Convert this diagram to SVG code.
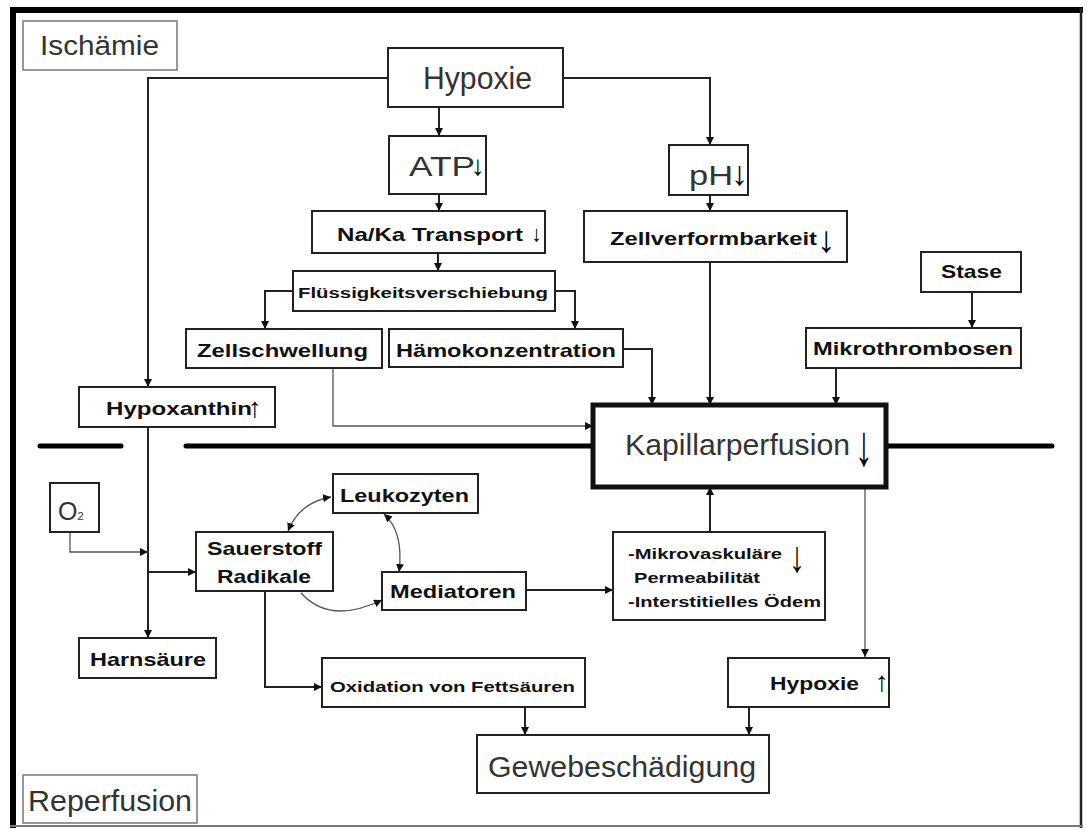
<svg xmlns="http://www.w3.org/2000/svg" width="1087" height="830" viewBox="0 0 1087 830">
<style>
.bx{fill:#fff;stroke:#222;stroke-width:2}
.lb{fill:#fff;stroke:#777;stroke-width:1.5}
.kp{fill:#fff;stroke:#111;stroke-width:5}
.t{font-family:"Liberation Sans",Arial,sans-serif;fill:#333}
.b{font-family:"Liberation Sans",Arial,sans-serif;font-weight:bold;fill:#111}
.ar{font-family:"Liberation Sans",Arial,sans-serif;fill:#000}
.c{fill:none;stroke:#222;stroke-width:2}
.ct{fill:none;stroke:#555;stroke-width:1.3}
.sep{stroke:#000;stroke-width:5;stroke-linecap:round}
</style>
<defs>
<marker id="ah" viewBox="0 0 10 10" refX="10" refY="5" markerWidth="8" markerHeight="8" markerUnits="userSpaceOnUse" orient="auto-start-reverse"><path d="M0,0 L10,5 L0,10 z" fill="#111"/></marker>
</defs>
<rect width="1087" height="830" fill="#fff"/>
<g id="frame">
<line x1="10" y1="10" x2="1083" y2="10" stroke="#000" stroke-width="6"/>
<line x1="13" y1="8" x2="13" y2="828" stroke="#000" stroke-width="6"/>
<line x1="1081" y1="8" x2="1081" y2="828" stroke="#222" stroke-width="2.5"/>
<line x1="10" y1="826" x2="1083" y2="826" stroke="#777" stroke-width="2"/>
</g>
<g id="separator">
<line class="sep" x1="40" y1="446" x2="121" y2="446"/>
<line class="sep" x1="186" y1="446" x2="593" y2="446"/>
<line class="sep" x1="886" y1="446" x2="1052" y2="446"/>
</g>
<g id="connectors">
<path class="c" d="M388,78 H148 V387" marker-end="url(#ah)"/>
<path class="c" d="M439,107 V136" marker-end="url(#ah)"/>
<path class="c" d="M563,78 H710 V145" marker-end="url(#ah)"/>
<path class="c" d="M439,194 V211" marker-end="url(#ah)"/>
<path class="c" d="M710,195 V211" marker-end="url(#ah)"/>
<path class="c" d="M438,253 V271" marker-end="url(#ah)"/>
<path class="c" d="M293,291 H265 V329" marker-end="url(#ah)"/>
<path class="c" d="M555,291 H575 V329" marker-end="url(#ah)"/>
<path class="c" d="M710,262 V405" marker-end="url(#ah)"/>
<path class="c" d="M623,349 H652 V405" marker-end="url(#ah)"/>
<path class="c" d="M836,368 V405" marker-end="url(#ah)"/>
<path class="c" d="M972,292 V328" marker-end="url(#ah)"/>
<path class="ct" d="M333,368 V426 H593" marker-end="url(#ah)"/>
<path class="c" d="M148,427 V638" marker-end="url(#ah)"/>
<path class="ct" d="M70,532 V552 H148" marker-end="url(#ah)"/>
<path class="c" d="M148,572 H196" marker-end="url(#ah)"/>
<path class="c" d="M526,590 H613" marker-end="url(#ah)"/>
<path class="c" d="M710,532 V487" marker-end="url(#ah)"/>
<path class="ct" d="M865,487 V657" marker-end="url(#ah)"/>
<path class="c" d="M265,591 V687 H322" stroke="#444" marker-end="url(#ah)"/>
<path class="c" d="M525,707 V735" marker-end="url(#ah)"/>
<path class="c" d="M749,707 V735" marker-end="url(#ah)"/>
<path class="ct" d="M331,497 Q300,502 288,531" marker-start="url(#ah)" marker-end="url(#ah)"/>
<path class="ct" d="M384,514 Q404,532 399,572" marker-start="url(#ah)" marker-end="url(#ah)"/>
<path class="ct" d="M301,593 Q330,625 382,600" marker-end="url(#ah)"/>
</g>
<g id="ischaemie">
<rect class="lb" x="23" y="21" width="154" height="49"/>
<text class="t" x="40" y="55" font-size="27" textLength="119" lengthAdjust="spacingAndGlyphs">Ischämie</text>
</g>
<g id="hypoxie">
<rect class="bx" x="388" y="48" width="175" height="59"/>
<text class="t" x="423" y="89" font-size="31" textLength="109" lengthAdjust="spacingAndGlyphs">Hypoxie</text>
</g>
<g id="atp">
<rect class="bx" x="389" y="136" width="97" height="58"/>
<text class="t" x="409" y="176" font-size="28" textLength="66" lengthAdjust="spacingAndGlyphs">ATP</text>
<text class="ar" x="471" y="175" font-size="28">↓</text>
</g>
<g id="ph">
<rect class="bx" x="669" y="145" width="79" height="50"/>
<text class="t" x="689" y="185" font-size="28" textLength="44" lengthAdjust="spacingAndGlyphs">pH</text>
<text class="ar" x="731" y="185" font-size="34">↓</text>
</g>
<g id="nak">
<rect class="bx" x="312" y="211" width="233" height="42"/>
<text class="b" x="337" y="241" font-size="19" textLength="186" lengthAdjust="spacingAndGlyphs">Na/Ka Transport</text>
<text class="ar" x="531" y="241" font-size="22">↓</text>
</g>
<g id="zellverformbarkeit">
<rect class="bx" x="584" y="211" width="263" height="51"/>
<text class="b" x="610" y="245" font-size="19" textLength="207" lengthAdjust="spacingAndGlyphs">Zellverformbarkeit</text>
<text class="ar" x="817" y="252" font-size="37">↓</text>
</g>
<g id="stase">
<rect class="bx" x="921" y="252" width="100" height="40"/>
<text class="b" x="941" y="278" font-size="19" textLength="61" lengthAdjust="spacingAndGlyphs">Stase</text>
</g>
<g id="fluessigkeit">
<rect class="bx" x="293" y="271" width="262" height="40"/>
<text class="b" x="298" y="298" font-size="14" textLength="250" lengthAdjust="spacingAndGlyphs">Flüssigkeitsverschiebung</text>
</g>
<g id="zellschwellung">
<rect class="bx" x="186" y="329" width="196" height="39"/>
<text class="b" x="197" y="357" font-size="19" textLength="171" lengthAdjust="spacingAndGlyphs">Zellschwellung</text>
</g>
<g id="haemokonzentration">
<rect class="bx" x="389" y="329" width="234" height="38"/>
<text class="b" x="396" y="357" font-size="19" textLength="220" lengthAdjust="spacingAndGlyphs">Hämokonzentration</text>
</g>
<g id="mikrothrombosen">
<rect class="bx" x="806" y="328" width="215" height="40"/>
<text class="b" x="813" y="355" font-size="19" textLength="200" lengthAdjust="spacingAndGlyphs">Mikrothrombosen</text>
</g>
<g id="hypoxanthin">
<rect class="bx" x="79" y="387" width="196" height="40"/>
<text class="b" x="106" y="415" font-size="19" textLength="146" lengthAdjust="spacingAndGlyphs">Hypoxanthin</text>
<text class="ar" x="248" y="417" font-size="28">↑</text>
</g>
<g id="kapillarperfusion">
<rect class="kp" x="593" y="405" width="293" height="82"/>
<text class="t" x="625" y="455" font-size="30" textLength="225" lengthAdjust="spacingAndGlyphs">Kapillarperfusion</text>
<text class="ar" x="855" y="465" font-size="58" textLength="18" lengthAdjust="spacingAndGlyphs">↓</text>
</g>
<g id="o2">
<rect class="bx" x="50" y="483" width="49" height="49" stroke="#333"/>
<text class="t" x="58" y="520" font-size="25">O<tspan font-size="11">2</tspan></text>
</g>
<g id="leukozyten">
<rect class="bx" x="333" y="474" width="145" height="39"/>
<text class="b" x="340" y="502" font-size="19" textLength="129" lengthAdjust="spacingAndGlyphs">Leukozyten</text>
</g>
<g id="sauerstoff">
<rect class="bx" x="196" y="532" width="137" height="59"/>
<text class="b" x="207" y="555" font-size="19" textLength="115" lengthAdjust="spacingAndGlyphs">Sauerstoff</text>
<text class="b" x="217" y="583" font-size="19" textLength="94" lengthAdjust="spacingAndGlyphs">Radikale</text>
</g>
<g id="mediatoren">
<rect class="bx" x="382" y="572" width="144" height="38"/>
<text class="b" x="390" y="598" font-size="19" textLength="126" lengthAdjust="spacingAndGlyphs">Mediatoren</text>
</g>
<g id="mikrovaskulaer">
<rect class="bx" x="613" y="532" width="212" height="88"/>
<text class="b" x="628" y="559" font-size="14" textLength="154" lengthAdjust="spacingAndGlyphs">-Mikrovaskuläre</text>
<text class="ar" x="789" y="572" font-size="44" textLength="16" lengthAdjust="spacingAndGlyphs">↓</text>
<text class="b" x="634" y="583" font-size="14" textLength="126" lengthAdjust="spacingAndGlyphs">Permeabilität</text>
<text class="b" x="628" y="607" font-size="14" textLength="193" lengthAdjust="spacingAndGlyphs">-Interstitielles Ödem</text>
</g>
<g id="harnsaeure">
<rect class="bx" x="79" y="638" width="137" height="40"/>
<text class="b" x="90" y="666" font-size="19" textLength="116" lengthAdjust="spacingAndGlyphs">Harnsäure</text>
</g>
<g id="oxidation">
<rect class="bx" x="322" y="658" width="263" height="49"/>
<text class="b" x="330" y="692" font-size="14" textLength="245" lengthAdjust="spacingAndGlyphs">Oxidation von Fettsäuren</text>
</g>
<g id="hypoxie2">
<rect class="bx" x="728" y="658" width="161" height="49"/>
<text class="b" x="770" y="690" font-size="19" textLength="89" lengthAdjust="spacingAndGlyphs">Hypoxie</text>
<text class="ar" x="875" y="691" font-size="28">↑</text>
</g>
<g id="gewebeschaedigung">
<rect class="bx" x="477" y="735" width="292" height="58"/>
<text class="t" x="488" y="777" font-size="29" textLength="268" lengthAdjust="spacingAndGlyphs">Gewebeschädigung</text>
</g>
<g id="reperfusion">
<rect class="lb" x="23" y="775" width="174" height="48"/>
<text class="t" x="28" y="811" font-size="30" textLength="164" lengthAdjust="spacingAndGlyphs">Reperfusion</text>
</g>
</svg>
